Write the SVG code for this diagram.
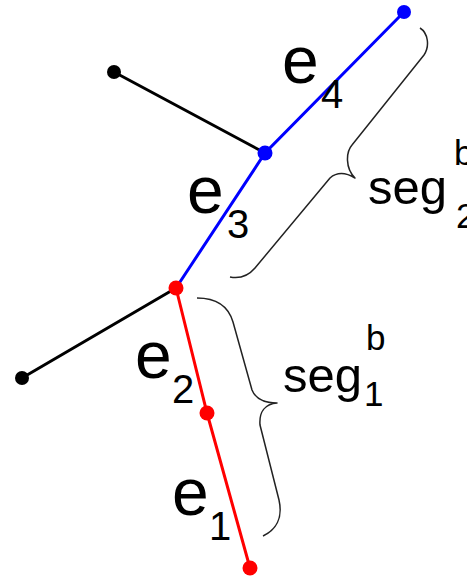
<svg xmlns="http://www.w3.org/2000/svg" width="467" height="582" viewBox="0 0 467 582">
<style>
.edge{fill:none;stroke-width:3;stroke-linecap:round}
.k{stroke:#000}
.b{stroke:#0000ff}
.r{stroke:#ff0000}
.brace{fill:none;stroke:#222;stroke-width:1.5;stroke-linejoin:round}
.lbl{font-family:"Liberation Sans",Arial,sans-serif;fill:#000}
.big{font-size:66px}
.sub{font-size:40px}
.seg{font-size:49px}
.ss{font-size:35px}
</style>
<rect width="467" height="582" fill="#fff"/>
<g id="connectors">
<line class="edge k" x1="114" y1="72" x2="265" y2="153"/>
<line class="edge k" x1="22" y1="378" x2="176" y2="288"/>
<polyline class="edge b" points="404,12 265,153 176,288"/>
<polyline class="edge r" points="176,288 207,413 250,568"/>
<path class="brace" d="M420,28 C428,33 430,46 424,55 L352,145 C346,152 345,168 355,178 C345,172 337,172 330,178 L255,268 C249,275 240,279 230,277"/>
<path class="brace" d="M197,298 C215,298 228,305 233,322 L252,390 C256,400 265,403 277,403 C265,404 259,412 260,425 L279,500 C283,518 276,530 263,536"/>
</g>
<g id="n_black1"><circle cx="114" cy="72" r="7" fill="#000"/></g>
<g id="n_black2"><circle cx="22" cy="378" r="7" fill="#000"/></g>
<g id="n_blue1"><circle cx="404" cy="12" r="7" fill="#0000ff"/></g>
<g id="n_blue2"><circle cx="265" cy="153" r="7.5" fill="#0000ff"/></g>
<g id="n_red1"><circle cx="176" cy="288" r="7.5" fill="#ff0000"/></g>
<g id="n_red2"><circle cx="207" cy="413" r="7.5" fill="#ff0000"/></g>
<g id="n_red3"><circle cx="250" cy="568" r="7.5" fill="#ff0000"/></g>
<g id="labels">
<text class="lbl big" x="282" y="83">e</text><text class="lbl sub" x="321" y="108">4</text>
<text class="lbl big" x="187" y="213">e</text><text class="lbl sub" x="227" y="238">3</text>
<text class="lbl big" x="135" y="378">e</text><text class="lbl sub" x="172" y="403">2</text>
<text class="lbl big" x="172" y="515">e</text><text class="lbl sub" x="209" y="540">1</text>
<text class="lbl seg" x="368" y="204">seg</text><text class="lbl ss" x="454" y="165">b</text><text class="lbl ss" x="456" y="228">2</text>
<text class="lbl seg" x="283" y="392">seg</text><text class="lbl ss" x="366" y="350">b</text><text class="lbl ss" x="364" y="406">1</text>
</g>
</svg>
